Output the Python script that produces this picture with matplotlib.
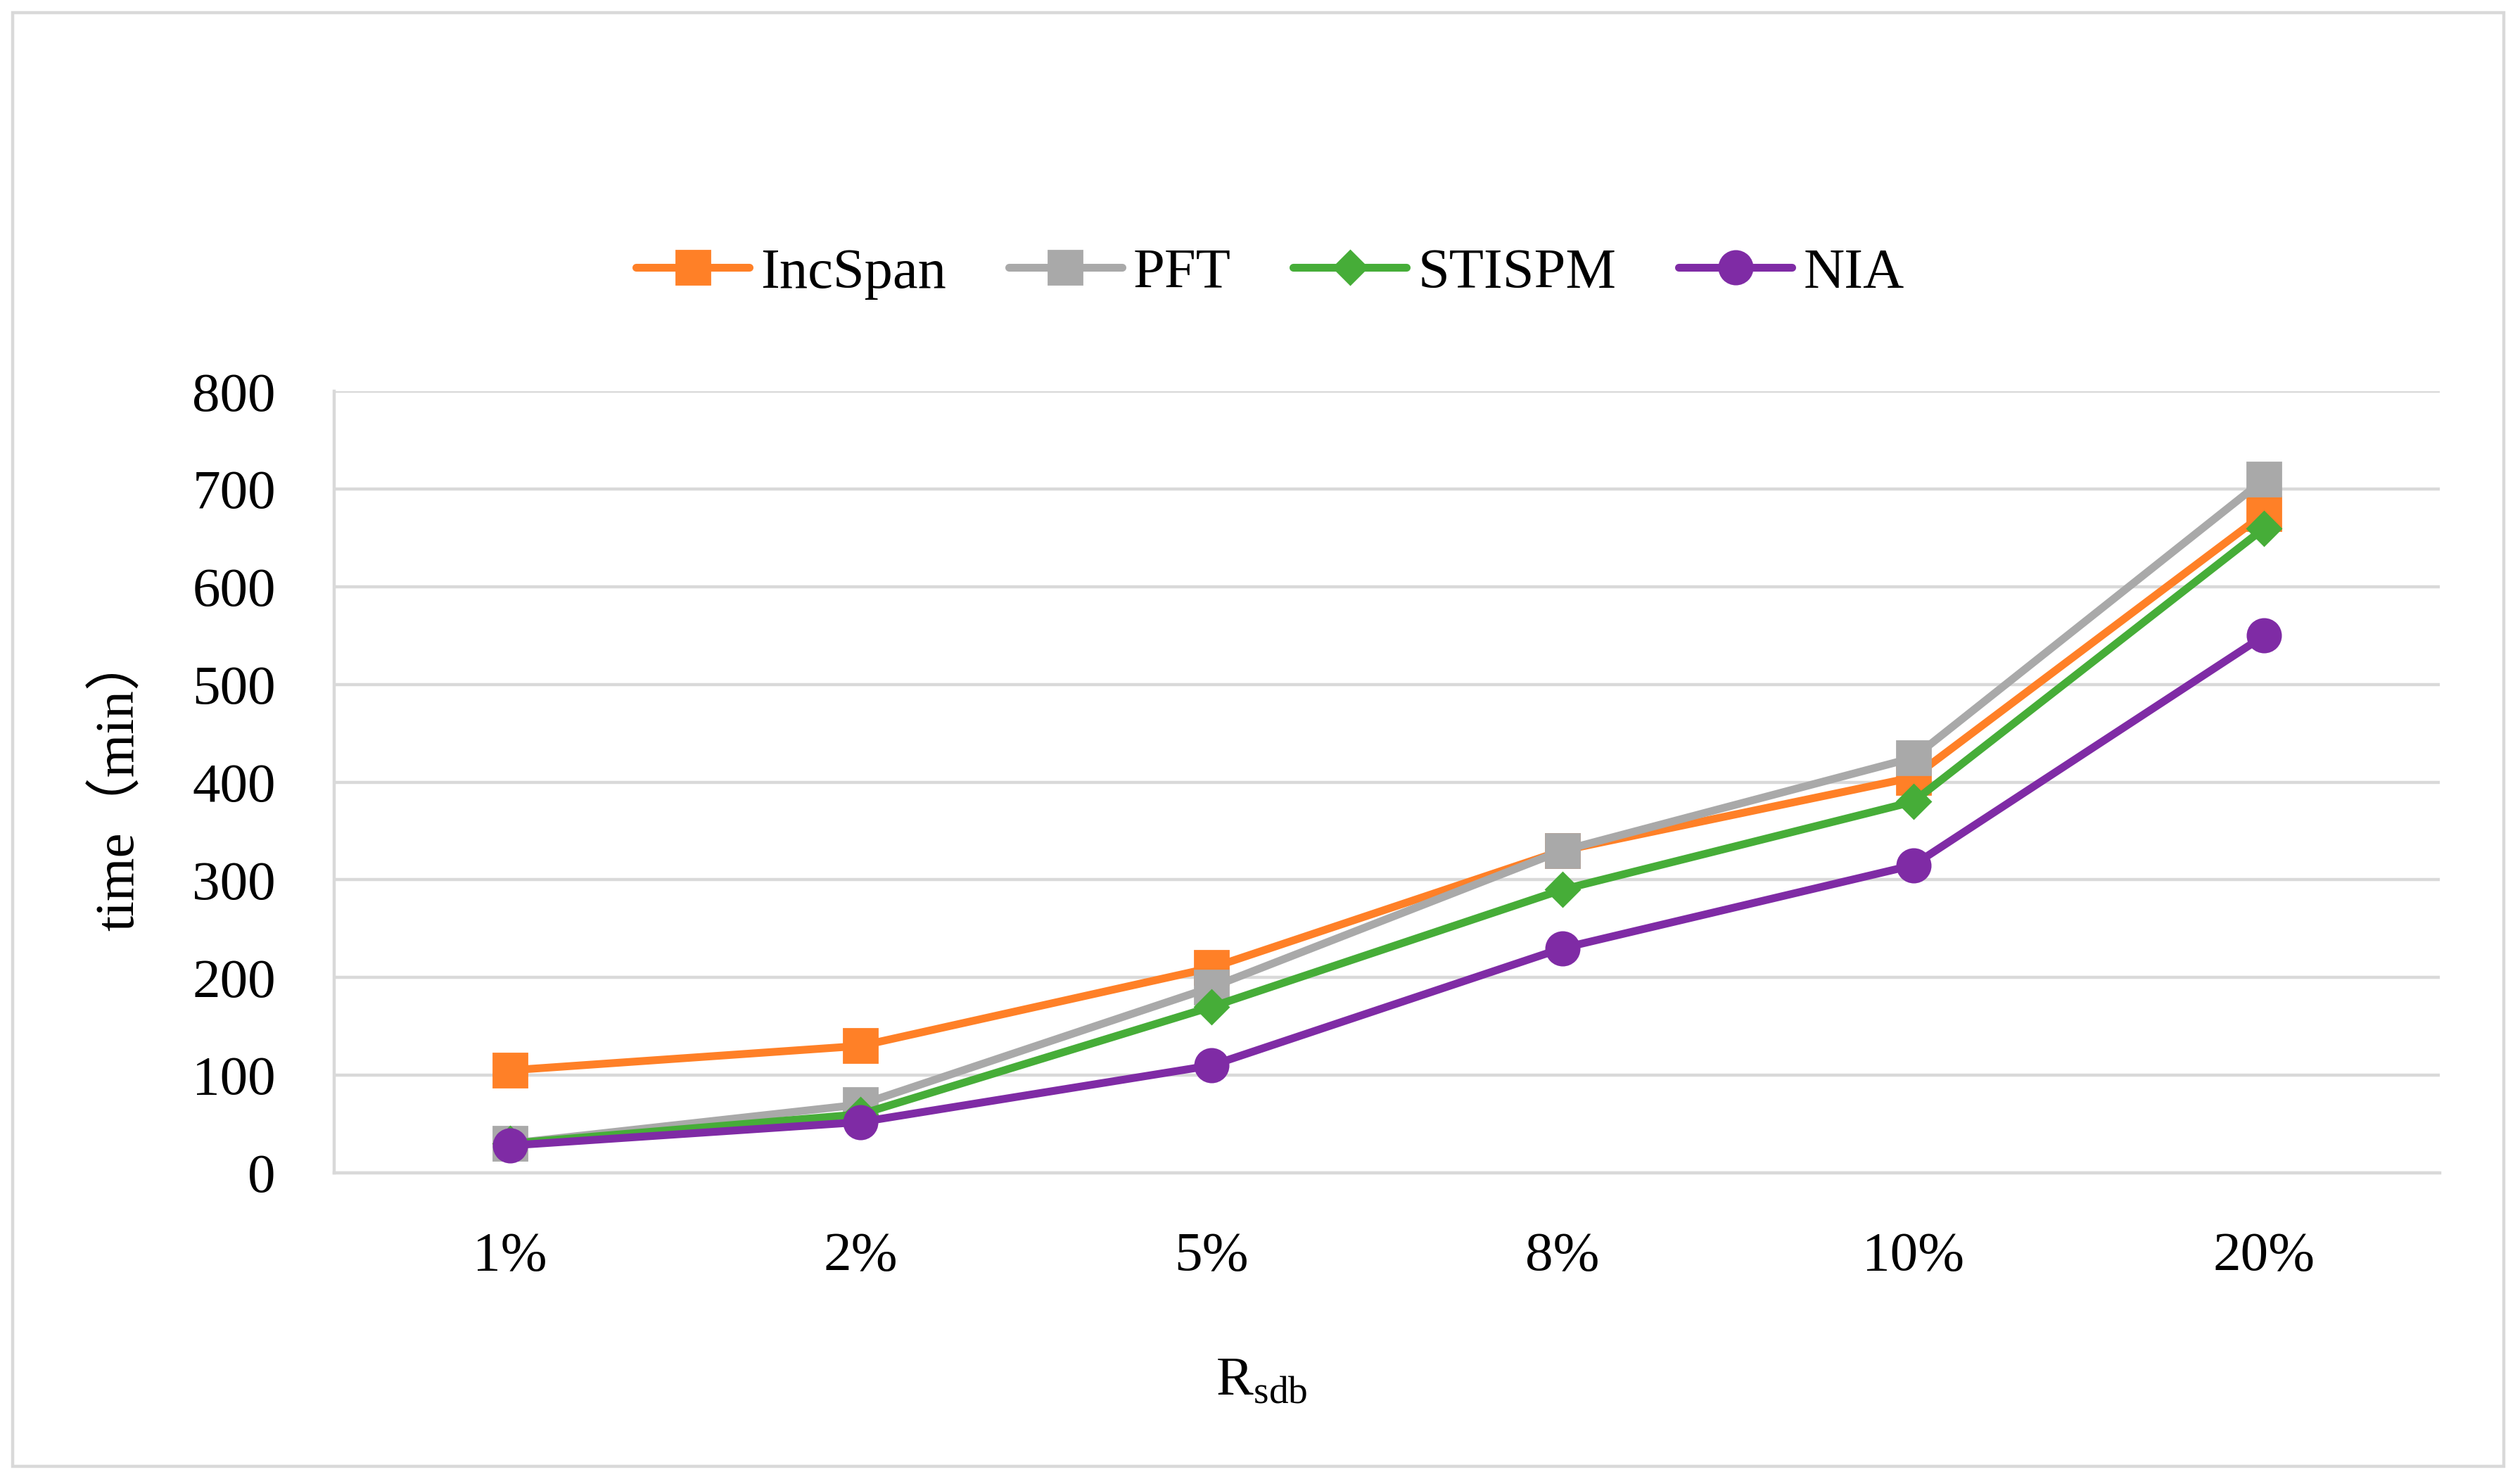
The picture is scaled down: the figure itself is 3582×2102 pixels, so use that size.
import matplotlib
matplotlib.use("Agg")
import matplotlib.pyplot as plt
from matplotlib.patches import Rectangle

categories = ["1%", "2%", "5%", "8%", "10%", "20%"]
incspan = [105, 130, 210, 330, 405, 675]
pft = [30, 70, 190, 330, 425, 710]
stispm = [30, 60, 170, 290, 380, 660]
nia = [28, 52, 110, 230, 315, 550]
yticks = [0, 100, 200, 300, 400, 500, 600, 700, 800]

plt.rcParams["font.family"] = ["Liberation Serif", "Noto Sans CJK SC"]
plt.rcParams["mathtext.fontset"] = "custom"
plt.rcParams["mathtext.rm"] = "Liberation Serif"

fig = plt.figure(figsize=(17.91, 10.51), dpi=200)
fig.patches.append(Rectangle((8 / 1568, 8 / 918), 1550 / 1568, 902 / 918,
                             transform=fig.transFigure, fill=False,
                             edgecolor="#d9d9d9", linewidth=1.6))

ax = fig.add_axes([0.1327, 0.207, 0.8354, 0.5283])
x = range(len(categories))
series = [
    ("IncSpan", incspan, "#ff8027", "s", 17),
    ("PFT", pft, "#a9a9a9", "s", 17),
    ("STISPM", stispm, "#46ad38", "D", 12),
    ("NIA", nia, "#7f2ba5", "o", 17),
]
for name, vals, color, marker, ms in series:
    ax.plot(x, vals, color=color, linewidth=4.0, marker=marker,
            markersize=ms, label=name, solid_capstyle="round")

ax.set_xlim(-0.5, len(categories) - 0.5)
ax.set_ylim(0, 800)
ax.set_yticks(yticks)
ax.set_xticks(list(x))
ax.set_xticklabels(categories)
ax.grid(axis="y", color="#d9d9d9", linewidth=1.6)
ax.set_axisbelow(True)
for s in ["top", "right"]:
    ax.spines[s].set_visible(False)
ax.spines["left"].set_color("#d9d9d9")
ax.spines["left"].set_linewidth(1.6)
ax.spines["bottom"].set_color("#d9d9d9")
ax.spines["bottom"].set_linewidth(1.6)
ax.tick_params(axis="both", length=0, labelsize=28.5)
ax.tick_params(axis="y", pad=30)
ax.tick_params(axis="x", pad=30)

ax.set_ylabel("time（min）", fontsize=28.5, labelpad=24)
ax.set_xlabel(r"R$_{\mathregular{sdb}}$", fontsize=28.5)
ax.xaxis.set_label_coords(0.4405, -0.235)

fig.legend(loc="center", bbox_to_anchor=(0.504, 0.815), ncol=4, frameon=False,
           fontsize=29, handlelength=2.0, handletextpad=0.2, columnspacing=1.1)

fig.savefig("out.png", dpi=200)
